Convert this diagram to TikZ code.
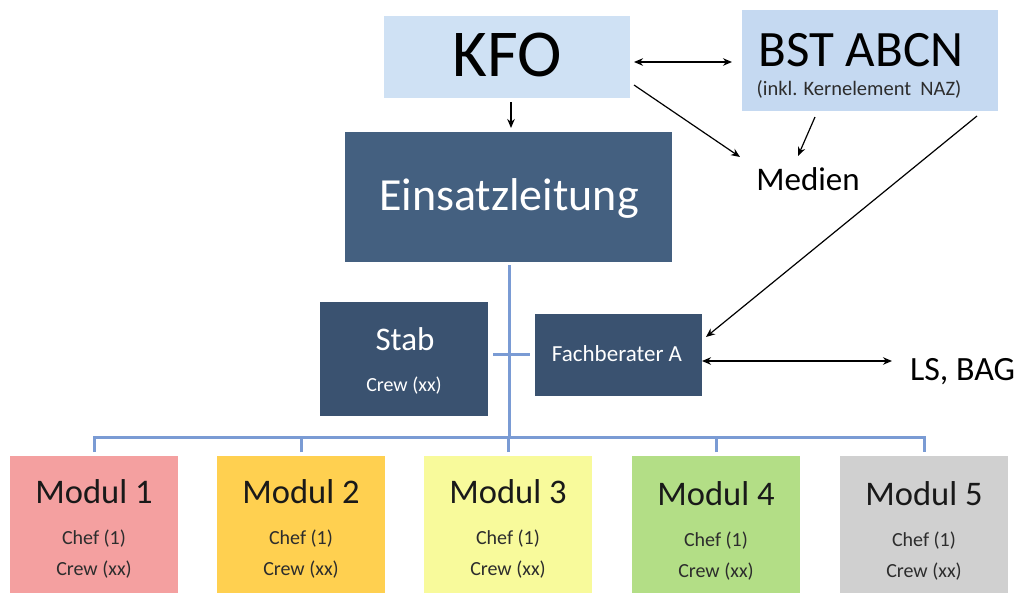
\documentclass[tikz,border=0pt]{standalone}
\usepackage{fontspec}
\setmainfont{Carlito}
\usetikzlibrary{calc,arrows.meta}

\definecolor{kfofill}{RGB}{207,225,244}
\definecolor{bstfill}{RGB}{197,217,241}
\definecolor{leadfill}{RGB}{68,96,128}
\definecolor{stafffill}{RGB}{58,82,112}
\definecolor{treeblue}{RGB}{122,155,212}
\definecolor{modA}{RGB}{244,160,160}
\definecolor{modB}{RGB}{255,208,80}
\definecolor{modC}{RGB}{248,250,155}
\definecolor{modD}{RGB}{179,222,134}
\definecolor{modE}{RGB}{208,208,208}
\definecolor{subtext}{RGB}{45,45,45}

\newcommand{\fs}[1]{\fontsize{#1}{#1}\selectfont}

\begin{document}
\begin{tikzpicture}[x=1pt,y=-1pt,
  box/.style={inner sep=0pt, outer sep=0pt, draw=none},
  lbl/.style={inner sep=0pt, outer sep=0pt, anchor=base},
  link/.style={draw=black, line width=1.2pt, -{Stealth[length=9pt,width=7.5pt]}},
  both/.style={draw=black, line width=1.2pt, {Stealth[length=9pt,width=7.5pt]}-{Stealth[length=9pt,width=7.5pt]}},
  tree/.style={draw=treeblue, line width=3pt},
  modbox/.style={box, minimum width=168pt, minimum height=137pt},
  modtitle/.style={lbl, font=\fs{34.5}, text=black!90},
  modline/.style={lbl, font=\fs{20}, text=subtext}]
\useasboundingbox (0,0) rectangle (1018,595);

% upper level boxes
\node[box, fill=kfofill, minimum width=246pt, minimum height=82pt] (kfo) at (507,57) {};
\node[box, fill=bstfill, minimum width=256pt, minimum height=101pt] (bst) at (870,60.5) {};
\node[box, fill=leadfill, minimum width=327pt, minimum height=130pt] (el) at (508.5,197) {};
\node[box, fill=stafffill, minimum width=168pt, minimum height=114pt] (stab) at (404,359) {};
\node[box, fill=stafffill, minimum width=167pt, minimum height=82pt] (fb) at (618.5,355) {};

\node[lbl, font=\fs{67}] (kfot) at (507,76) {KFO};
\node[lbl, font=\fs{51}] (bstt) at (861,66) {BST ABCN};
\node[lbl, font=\fs{20.5}, text=subtext] (bsts) at (859,95) {(inkl. Kernelement\ \ NAZ)};
\node[lbl, font=\fs{46}, text=white] (elt) at (509,210) {Einsatzleitung};
\node[lbl, font=\fs{33}, text=white] (stabt) at (405,350) {Stab};
\node[lbl, font=\fs{20}, text=white] (stabc) at (404,391) {Crew (xx)};
\node[lbl, font=\fs{23}, text=white] (fbt) at (617,361) {Fachberater A};
\node[lbl, font=\fs{33}] (med) at (808,190) {Medien};
\node[lbl, font=\fs{34}, anchor=base west] (ls) at (910,380) {LS, BAG};

% module row
\foreach \i/\cx/\col/\dy in {1/94/modA/0, 2/301/modB/0, 3/508/modC/0, 4/716/modD/2.5, 5/924/modE/2.5}{
  \node[modbox, fill=\col] (m\i) at (\cx,524.5) {};
  \node[modtitle] (m\i t) at (\cx,503+\dy) {Modul \i};
  \node[modline] (m\i a) at (\cx,544+\dy) {Chef (1)};
  \node[modline] (m\i b) at (\cx,575+\dy) {Crew (xx)};
}

% organisation tree
\coordinate (hub) at (509,437);
\draw[tree] ($(el.south)+(0.5,3)$) -- (hub);
\draw[tree] ($(m1.north)+(0,-4)$) |- (hub) -| ($(m5.north)+(0,-4)$);
\foreach \i in {2,3,4}{
  \draw[tree] ($(m\i.north)+(0,-4)$) -- (m\i.north |- hub);
}
\draw[tree] ($(stab.east)+(5,-5)$) -- ($(fb.west)+(-5,-1)$);

% information flow
\draw[both] ($(kfo.east)+(4,5)$) -- ($(bst.west)+(-10,1.5)$);
\draw[link] ($(kfo.south)+(4,4)$) -- ($(el.north)+(2.5,-4)$);
\draw[link] ($(kfo.east)+(4,28)$) -- ($(med.base)+(-68,-33)$);
\draw[link] ($(bst.south)+(-55,6)$) -- ($(med.base)+(-10,-34)$);
\draw[link] ($(bst.south east)+(-21,5)$) -- ($(fb.north east)+(4,23)$);
\draw[both] ($(fb.east)+(0,6)$) -- ($(ls.base west)+(-18,-19)$);
\end{tikzpicture}
\end{document}
